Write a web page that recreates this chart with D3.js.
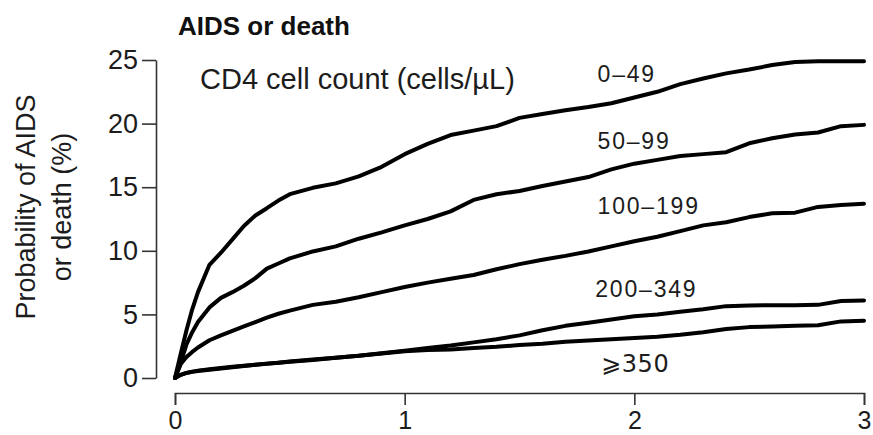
<!DOCTYPE html>
<html>
<head>
<meta charset="utf-8">
<script src="https://cdn.jsdelivr.net/npm/d3@7/dist/d3.min.js"></script>
<style>
  html, body { margin: 0; padding: 0; background: #fff; }
  svg { display: block; font-family: "Liberation Sans", Arial, Helvetica, sans-serif; }
</style>
</head>
<body>
<svg id="chart" width="873" height="435"></svg>
<script>
// Follow-up time (years)
const years = [0, 0.025, 0.05, 0.075, 0.1, 0.15, 0.2, 0.25, 0.3, 0.35, 0.4, 0.45, 0.5,
  0.6, 0.7, 0.8, 0.9, 1.0, 1.1, 1.2, 1.3, 1.4, 1.5, 1.6, 1.7, 1.8, 1.9, 2.0,
  2.1, 2.2, 2.3, 2.4, 2.5, 2.6, 2.7, 2.8, 2.9, 3.0];

// Cumulative probability of AIDS or death (%) by baseline CD4 stratum
const cd4_0_49 = [0, 1.9, 3.75, 5.4, 6.75, 8.9, 9.85, 10.9, 11.95, 12.78, 13.35, 13.95, 14.45,
  14.95, 15.3, 15.85, 16.6, 17.6, 18.4, 19.1, 19.45, 19.8, 20.45, 20.75, 21.05, 21.3, 21.6, 22.05,
  22.5, 23.1, 23.55, 23.95, 24.25, 24.6, 24.85, 24.9, 24.9, 24.9];
const cd4_50_99 = [0, 1.2, 2.65, 3.6, 4.4, 5.55, 6.3, 6.75, 7.25, 7.85, 8.6, 9.0, 9.4,
  9.95, 10.35, 10.95, 11.45, 12.0, 12.5, 13.1, 14.0, 14.45, 14.7, 15.1, 15.45, 15.8, 16.4, 16.85,
  17.15, 17.45, 17.6, 17.75, 18.45, 18.85, 19.15, 19.3, 19.8, 19.9];
const cd4_100_199 = [0, 1.1, 1.65, 2.05, 2.4, 2.97, 3.35, 3.7, 4.05, 4.4, 4.75, 5.05, 5.3,
  5.75, 6.0, 6.35, 6.75, 7.15, 7.5, 7.8, 8.1, 8.55, 8.95, 9.3, 9.6, 9.95, 10.35, 10.75,
  11.1, 11.55, 12.0, 12.25, 12.65, 12.95, 13.0, 13.45, 13.6, 13.7];
const cd4_200_349 = [0, 0.25, 0.4, 0.48, 0.55, 0.65, 0.75, 0.85, 0.95, 1.05, 1.12, 1.2, 1.28,
  1.42, 1.6, 1.75, 1.95, 2.15, 2.35, 2.55, 2.8, 3.05, 3.35, 3.75, 4.1, 4.35, 4.6, 4.85,
  5.0, 5.2, 5.4, 5.65, 5.7, 5.72, 5.72, 5.75, 6.05, 6.1];
const cd4_350 = [0, 0.25, 0.4, 0.5, 0.58, 0.68, 0.78, 0.88, 0.97, 1.05, 1.13, 1.2, 1.3,
  1.45, 1.6, 1.75, 1.92, 2.1, 2.2, 2.25, 2.35, 2.45, 2.6, 2.7, 2.85, 2.95, 3.05, 3.15,
  3.25, 3.4, 3.6, 3.85, 4.0, 4.05, 4.1, 4.15, 4.45, 4.5];

const seriesNames = ["0\u201349", "50\u201399", "100\u2013199", "200\u2013349", "\u2A7E350"];
const seriesValues = [cd4_0_49, cd4_50_99, cd4_100_199, cd4_200_349, cd4_350];

const xTicks = [0, 1, 2, 3];
const yTicks = [0, 5, 10, 15, 20, 25];

// Label anchors in data units (year, %)
const labelAnchors = [[1.84, 23.3], [1.84, 18.0], [1.84, 12.9], [1.83, 6.35], [1.855, 0.5]];

const svg = d3.select("#chart");
const x = d3.scaleLinear().domain([0, 3]).range([175, 864]);
const y = d3.scaleLinear().domain([0, 25]).range([378, 60]);
const axisColor = "#333";
const textColor = "#1c1c1c";

// Y axis
const yAxis = svg.append("g")
  .attr("transform", "translate(156,0)")
  .call(d3.axisLeft(y).tickValues(yTicks).tickSize(14).tickSizeOuter(0).tickPadding(4));
yAxis.select(".domain").attr("stroke", axisColor).attr("stroke-width", 1.6);
yAxis.selectAll(".tick line").attr("stroke", axisColor).attr("stroke-width", 1.6);
yAxis.selectAll(".tick text")
  .attr("fill", textColor).style("font-size", "27px").style("font-family", "inherit");

// X axis, offset below the plot
const xAxis = svg.append("g")
  .attr("transform", "translate(0,393)")
  .call(d3.axisBottom(x).tickValues(xTicks).tickFormat(d3.format("d")).tickSize(12).tickSizeOuter(12).tickPadding(6));
xAxis.select(".domain").attr("stroke", axisColor).attr("stroke-width", 1.6);
xAxis.selectAll(".tick line").attr("stroke", axisColor).attr("stroke-width", 1.6);
xAxis.selectAll(".tick text")
  .attr("fill", textColor).style("font-size", "25px").style("font-family", "inherit");

// Y axis title (two lines)
const yTitle = svg.append("text")
  .attr("transform", "translate(0,207) rotate(-90)")
  .attr("text-anchor", "middle")
  .attr("fill", textColor)
  .style("font-size", "27px");
yTitle.append("tspan").attr("x", 0).attr("y", 35).text("Probability of AIDS");
yTitle.append("tspan").attr("x", 0).attr("y", 71).text("or death (%)");

// Panel title
svg.append("text")
  .attr("x", 178).attr("y", 35)
  .attr("fill", "#111")
  .style("font-size", "26px").style("font-weight", "bold")
  .text("AIDS or death");

// Legend heading
svg.append("text")
  .attr("x", 200).attr("y", 89)
  .attr("fill", textColor)
  .style("font-size", "29px")
  .text("CD4 cell count (cells/\u00B5L)");

// Curves
const line = d3.line()
  .x((d, i) => x(years[i]))
  .y(d => y(d))
  .curve(d3.curveLinear);

svg.append("g").selectAll("path")
  .data(seriesValues)
  .join("path")
  .attr("d", d => line(d))
  .attr("fill", "none")
  .attr("stroke", "#000")
  .attr("stroke-width", 4)
  .attr("stroke-linejoin", "round")
  .attr("stroke-linecap", "round");

// Stratum labels
svg.append("g").selectAll("text")
  .data(seriesNames)
  .join("text")
  .attr("x", (d, i) => x(labelAnchors[i][0]))
  .attr("y", (d, i) => y(labelAnchors[i][1]))
  .attr("fill", textColor)
  .style("font-size", (d, i) => i === 4 ? "24px" : "23px")
  .style("letter-spacing", (d, i) => i === 4 ? "0.6px" : "1.8px")
  .style("font-family", (d, i) => i === 4 ? "\"DejaVu Sans\", \"Liberation Sans\", sans-serif" : "inherit")
  .text(d => d);
</script>
</body>
</html>
